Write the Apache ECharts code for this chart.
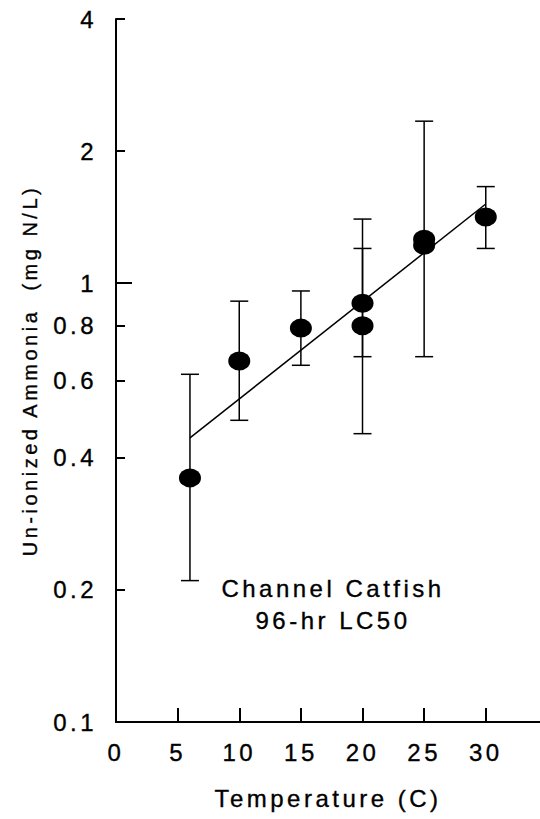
<!DOCTYPE html>
<html>
<head>
<meta charset="utf-8">
<script src="https://cdn.jsdelivr.net/npm/echarts@6/dist/echarts.min.js"></script>
<style>
    html, body { margin: 0; padding: 0; background: #fff; }
    #chart { width: 540px; height: 819px; }
    /* the scanned figure uses wide letter spacing and heavy glyphs */
    #chart text { letter-spacing: 3.5px; white-space: pre; stroke: #000; stroke-width: 0.35px; }
    #chart text[style*="20px"] { letter-spacing: 3.5px; }
</style>
</head>
<body>
<div id="chart"></div>
<script>
    // temperature (C) of each test
    var temps = [6, 10, 15, 20, 20, 25, 25, 30];
    // 96-hr LC50, un-ionized ammonia (mg N/L)
    var lc50 = [0.36, 0.665, 0.79, 0.90, 0.80, 1.26, 1.22, 1.415];
    // confidence limits (null = no bar drawn)
    var ciLow = [0.21, 0.487, 0.65, 0.68, 0.454, 0.68, null, 1.20];
    var ciHigh = [0.62, 0.91, 0.96, 1.20, 1.40, 2.34, null, 1.66];
    // regression line end points
    var fitTemps = [6, 30];
    var fitValues = [0.444, 1.515];
    // axis ticks
    var xTicks = [0, 5, 10, 15, 20, 25, 30];
    var yTicks = [0.1, 0.2, 0.4, 0.6, 0.8, 1, 2, 4];

    var FONT = '"Liberation Sans", Arial, sans-serif';

    var pts = temps.map(function (t, i) { return [t, lc50[i]]; });
    var bars = [];
    temps.forEach(function (t, i) {
        if (ciLow[i] != null) bars.push([t, ciLow[i], ciHigh[i]]);
    });
    var fit = fitTemps.map(function (t, i) { return [t, fitValues[i]]; });

    var chart = echarts.init(document.getElementById('chart'), null, {renderer: 'svg'});
    chart.setOption({
        animation: false,
        backgroundColor: '#fff',
        grid: {left: 116, right: 0, top: 19, bottom: 97},
        xAxis: {
            type: 'value',
            min: 0,
            max: 34.4,
            interval: 5,
            name: 'Temperature (C)',
            nameLocation: 'middle',
            nameGap: 64,
            nameTextStyle: {fontFamily: FONT, fontSize: 24, color: '#000'},
            axisLine: {lineStyle: {color: '#000', width: 2}},
            axisTick: {inside: true, length: 14, lineStyle: {color: '#000', width: 2},
                customValues: xTicks.slice(1)},
            axisLabel: {fontFamily: FONT, fontSize: 24, color: '#000', margin: 18,
                customValues: xTicks},
            splitLine: {show: false}
        },
        yAxis: [{
            type: 'log',
            logBase: 2,
            min: 0.1,
            max: 4,
            name: 'Un-ionized Ammonia  (mg N/L)',
            nameLocation: 'middle',
            nameGap: 76,
            nameTextStyle: {fontFamily: FONT, fontSize: 20, color: '#000'},
            axisLine: {show: true, lineStyle: {color: '#000', width: 2}},
            axisTick: {inside: true, length: 9, lineStyle: {color: '#000', width: 2},
                customValues: yTicks},
            axisLabel: {fontFamily: FONT, fontSize: 24, color: '#000', margin: 19,
                customValues: yTicks,
                formatter: function (v) { return String(Math.round(v * 100) / 100); }},
            splitLine: {show: false}
        }, {
            // longer tick at 1
            type: 'log',
            logBase: 2,
            min: 0.1,
            max: 4,
            position: 'left',
            axisLine: {show: false},
            axisTick: {inside: true, length: 16, lineStyle: {color: '#000', width: 2},
                customValues: [1]},
            axisLabel: {show: false},
            splitLine: {show: false}
        }],
        graphic: [
            {type: 'text', x: 333, y: 588, style: {text: 'Channel Catfish', font: '24px ' + FONT,
                fill: '#000', align: 'center', verticalAlign: 'middle',
                textAlign: 'center', textVerticalAlign: 'middle'}},
            {type: 'text', x: 333, y: 620, style: {text: '96-hr LC50', font: '24px ' + FONT,
                fill: '#000', align: 'center', verticalAlign: 'middle',
                textAlign: 'center', textVerticalAlign: 'middle'}}
        ],
        series: [{
            type: 'custom',
            z: 1,
            data: bars,
            encode: {x: 0, y: [1, 2]},
            renderItem: function (params, api) {
                var x = api.value(0);
                var top = api.coord([x, api.value(2)]);
                var bot = api.coord([x, api.value(1)]);
                var w = 9;
                var st = {stroke: '#000', lineWidth: 1.5};
                return {type: 'group', children: [
                    {type: 'line', shape: {x1: top[0], y1: top[1], x2: bot[0], y2: bot[1]}, style: st},
                    {type: 'line', shape: {x1: top[0] - w, y1: top[1], x2: top[0] + w, y2: top[1]}, style: st},
                    {type: 'line', shape: {x1: bot[0] - w, y1: bot[1], x2: bot[0] + w, y2: bot[1]}, style: st}
                ]};
            }
        }, {
            type: 'line',
            z: 2,
            data: fit,
            showSymbol: false,
            lineStyle: {color: '#000', width: 1.5}
        }, {
            type: 'scatter',
            z: 3,
            data: pts,
            symbol: 'path://M0,10A10,10,0,1,1,20,10A10,10,0,1,1,0,10Z',
            symbolSize: [22, 19],
            itemStyle: {color: '#000', opacity: 1}
        }]
    });
</script>
</body>
</html>
